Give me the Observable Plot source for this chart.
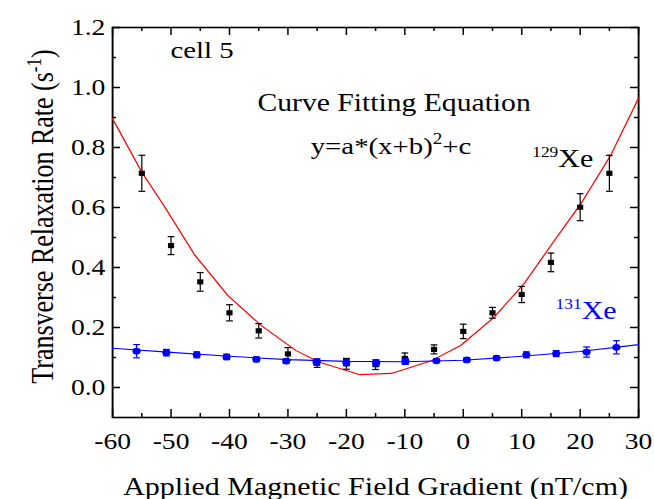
<!DOCTYPE html>
<html><head><meta charset="utf-8">
<script src="https://cdn.jsdelivr.net/npm/d3@7"></script>
<script src="https://cdn.jsdelivr.net/npm/@observablehq/plot@0.6"></script>
<style>
html,body{margin:0;padding:0;background:#fff;overflow:hidden}
#chart{width:654px;height:499px;overflow:hidden;position:relative}
#chart svg{transform:scaleX(1.2);transform-origin:0 0;display:block;position:absolute;left:0;top:0}
</style></head><body><div id="chart"></div>
<script>
// ---- data ----
const xe129X   = [-55,-50,-45,-40,-35,-30,-25,-20,-15,-10,-5,0,5,10,15,20,25];
const xe129Y   = [0.714,0.473,0.352,0.249,0.189,0.112,0.081,0.079,0.076,0.097,0.127,0.187,0.249,0.310,0.417,0.601,0.714];
const xe129Err = [0.060,0.030,0.031,0.027,0.024,0.021,0.014,0.018,0.016,0.018,0.015,0.024,0.018,0.027,0.031,0.045,0.060];

const xe131X   = [-55.9,-50.8,-45.6,-40.5,-35.4,-30.3,-25.1,-20,-14.9,-9.9,-4.6,0.6,5.7,10.8,15.9,21.1,26.2];
const xe131Y   = [0.121,0.116,0.109,0.102,0.094,0.088,0.085,0.083,0.082,0.087,0.089,0.092,0.098,0.109,0.113,0.118,0.134];
const xe131Err = [0.022,0.011,0.010,0.009,0.008,0.008,0.010,0.010,0.010,0.010,0.006,0.007,0.007,0.010,0.010,0.017,0.022];

const fit129X = [-60,-54.9,-51.4,-46,-40.3,-34.6,-28.6,-24.6,-17.8,-12.3,-5.6,-0.45,5.25,10.4,15.2,20.1,25.2,30];
const fit129Y = [0.896,0.714,0.612,0.443,0.307,0.207,0.123,0.084,0.043,0.047,0.088,0.140,0.234,0.346,0.479,0.612,0.773,0.965];

const fit131X = [-60,-50,-40,-30,-20,-10,0,10,20,30];
const fit131Y = [0.131,0.117,0.104,0.093,0.087,0.086,0.091,0.104,0.120,0.143];

const xMajor = [-60,-50,-40,-30,-20,-10,0,10,20,30];
const xMinor = [-55,-45,-35,-25,-15,-5,5,15,25];
const xLabels = ["-60","-50","-40","-30","-20","-10","0","10","20","30"];
const yMajor = [0,0.2,0.4,0.6,0.8,1.0,1.2];
const yMinor = [0.1,0.3,0.5,0.7,0.9,1.1];
const yLabels = ["0.0","0.2","0.4","0.6","0.8","1.0","1.2"];

const xTitle = "Applied Magnetic Field Gradient (nT/cm)";
const yTitleParts = [["Transverse Relaxation Rate (s",0],["-1",1],[")",0]];
const cellLabel = "cell 5";
const eqTitle = "Curve Fitting Equation";
const eqParts = [["y=a*(x+b)",0],["2",1],["+c",0]];
const xe129Parts = [["129",1],["Xe",0]];
const xe131Parts = [["131",1],["Xe",0]];

// ---- layout ----
const S = 1.2;              // horizontal stretch of the reference picture
const W = 654 / S, H = 499;
const mL = 112 / S, mR = 16 / S, mT = 27, mB = 82;
const plotW = W - mL - mR, plotH = H - mT - mB;

const d129 = xe129X.map((x,i)=>({x, y: xe129Y[i], e: xe129Err[i]}));
const d131 = xe131X.map((x,i)=>({x, y: xe131Y[i], e: xe131Err[i]}));
const f129 = fit129X.map((x,i)=>({x, y: fit129Y[i]}));
const f131 = fit131X.map((x,i)=>({x, y: fit131Y[i]}));
const caps = (d)=> d.flatMap(p=>[{x:p.x,y:p.y-p.e},{x:p.x,y:p.y+p.e}]);
const capW = 3.4 / S;
const capSymbol = {draw(ctx){ ctx.moveTo(-capW,0); ctx.lineTo(capW,0); }};
const join = parts => parts.map(p=>p[0]).join("");

const font = "'Liberation Serif','Times New Roman',Times,serif";
const vw = 1.5 / S; // vertical line width compensated for stretch

const chart = Plot.plot({
  width: W, height: H,
  marginLeft: mL, marginRight: mR, marginTop: mT, marginBottom: mB,
  style: {fontFamily: font, fontSize: "23px", background: "white", color: "black", overflow: "visible"},
  x: {domain: [-60, 30]},
  y: {domain: [-0.1, 1.2]},
  marks: [
    Plot.frame({stroke: "black", strokeWidth: 1.6}),
    // inward ticks, all four sides
    Plot.ruleX(xMajor, {insetTop: plotH - 8, stroke: "black", strokeWidth: vw}),
    Plot.ruleX(xMinor, {insetTop: plotH - 4, stroke: "black", strokeWidth: vw}),
    Plot.ruleX(xMajor, {insetBottom: plotH - 8, stroke: "black", strokeWidth: vw}),
    Plot.ruleX(xMinor, {insetBottom: plotH - 4, stroke: "black", strokeWidth: vw}),
    Plot.ruleY(yMajor, {insetRight: plotW - 8 / S, stroke: "black", strokeWidth: 1.5}),
    Plot.ruleY(yMinor, {insetRight: plotW - 4 / S, stroke: "black", strokeWidth: 1.5}),
    Plot.ruleY(yMajor, {insetLeft: plotW - 8 / S, stroke: "black", strokeWidth: 1.5}),
    Plot.ruleY(yMinor, {insetLeft: plotW - 4 / S, stroke: "black", strokeWidth: 1.5}),
    // tick labels
    Plot.axisX(xMajor, {anchor: "bottom", tickSize: 0, tickPadding: 15, label: null,
      tickFormat: d => xLabels[xMajor.indexOf(d)], fontSize: 23}),
    Plot.axisY(yMajor, {anchor: "left", tickSize: 0, tickPadding: 6, label: null,
      tickFormat: d => yLabels[yMajor.indexOf(d)], fontSize: 23}),
    // axis titles
    Plot.text([xTitle], {text: d=>d, frameAnchor: "bottom", lineAnchor: "bottom", dy: 77, fontSize: 25}),
    Plot.text([join(yTitleParts)], {text: d=>d, frameAnchor: "left", rotate: -90, lineAnchor: "bottom",
      textAnchor: "middle", dx: 43.5 - mL, dy: -6, fontSize: 26}),
    // fits
    Plot.line(f129, {x: "x", y: "y", stroke: "#ff0000", strokeWidth: 1.1}),
    Plot.line(f131, {x: "x", y: "y", stroke: "#0000ff", strokeWidth: 1.1}),
    // 129Xe data
    Plot.ruleX(d129, {x: "x", y1: d=>d.y-d.e, y2: d=>d.y+d.e, stroke: "black", strokeWidth: 1.2 / S}),
    Plot.dot(caps(d129), {x: "x", y: "y", symbol: capSymbol, stroke: "black", strokeWidth: 1.2, fill: "none"}),
    Plot.dot(d129, {x: "x", y: "y", symbol: "square", r: 2.9, fill: "black", stroke: "none"}),
    // 131Xe data
    Plot.ruleX(d131, {x: "x", y1: d=>d.y-d.e, y2: d=>d.y+d.e, stroke: "#0000ff", strokeWidth: 1.2 / S}),
    Plot.dot(caps(d131), {x: "x", y: "y", symbol: capSymbol, stroke: "#0000ff", strokeWidth: 1.2, fill: "none"}),
    Plot.dot(d131, {x: "x", y: "y", symbol: "circle", r: 3.4, fill: "#0000ff", stroke: "none"}),
    // annotations
    Plot.text([cellLabel], {text: d=>d, x: -50.1, y: 1.097, textAnchor: "start", lineAnchor: "bottom", fontSize: 24}),
    Plot.text([eqTitle], {text: d=>d, x: -35.2, y: 0.923, textAnchor: "start", lineAnchor: "bottom", fontSize: 24.7}),
    Plot.text([join(eqParts)], {text: d=>d, x: -26.1, y: 0.78, textAnchor: "start", lineAnchor: "bottom", fontSize: 24}),
    Plot.text([join(xe129Parts)], {text: d=>d, x: 11.8, y: 0.734, textAnchor: "start", lineAnchor: "bottom", fontSize: 25}),
    Plot.text([join(xe131Parts)], {text: d=>d, x: 15.8, y: 0.229, textAnchor: "start", lineAnchor: "bottom", fontSize: 25, fill: "#0000ff"})
  ]
});

document.getElementById("chart").appendChild(chart);

// rebuild texts that contain superscripts as tspans
function superscriptify(parts, supSize, rise){
  const full = join(parts);
  d3.select(chart).selectAll("text").filter(function(){ return this.textContent === full; }).each(function(){
    const t = d3.select(this);
    t.text(null);
    let raised = false;
    parts.forEach(([s, sup]) => {
      const sp = t.append("tspan").text(s);
      if (sup && !raised) { sp.attr("dy", -rise).attr("font-size", supSize); raised = true; }
      else if (!sup && raised) { sp.attr("dy", rise); raised = false; }
      else if (sup) sp.attr("font-size", supSize);
    });
  });
}
superscriptify(yTitleParts, 17, 10);
superscriptify(eqParts, 16, 10);
superscriptify(xe129Parts, 14.5, 10);
superscriptify(xe131Parts, 14.5, 10);
</script>
</body></html>
